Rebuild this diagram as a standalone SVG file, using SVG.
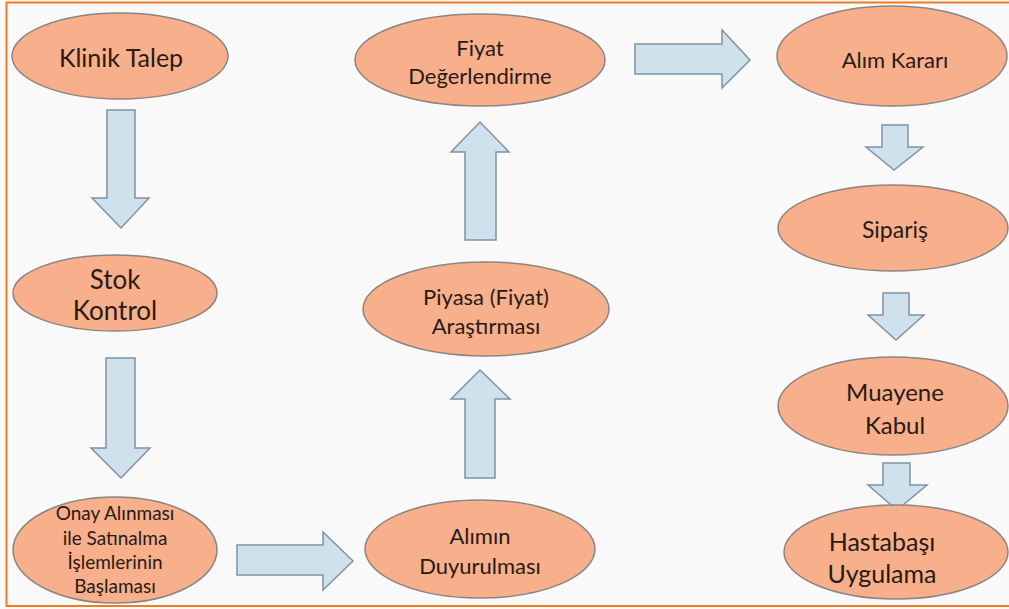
<svg xmlns="http://www.w3.org/2000/svg" width="1009" height="609" viewBox="0 0 1009 609">
<style>
.bg{fill:#f9f9f9}
.frame{fill:none;stroke:#f07c22;stroke-width:2}
.node ellipse{fill:#f7b08b;stroke:#8c8480;stroke-width:1.5}
.node text{font-family:"Lato","Liberation Sans",sans-serif;fill:#2a1a14;text-anchor:middle;dominant-baseline:central}
.arr{fill:#d0e1ee;stroke:#7f93a4;stroke-width:1.5;stroke-linejoin:miter}
</style>
<rect class="bg" x="0" y="0" width="1009" height="609"/>
<rect class="frame" x="6.5" y="2.5" width="1010" height="603.5"/>

<g id="connectors">
  <polygon class="arr" points="107,110 135,110 135,198 149,198 121,228 92,198 107,198"/>
  <polygon class="arr" points="106,358 135,358 135,448 150,448 121,478 91,448 106,448"/>
  <polygon class="arr" points="237,545 323,545 323,532 353,561 323,590 323,575 237,575"/>
  <polygon class="arr" points="465,478 495,478 495,399 510,399 480,370 451,399 465,399"/>
  <polygon class="arr" points="465,240 496,240 496,152 509,152 480,122 451,152 465,152"/>
  <polygon class="arr" points="635,44 722,44 722,30 750,60 722,88 722,74 635,74"/>
  <polygon class="arr" points="882,125 908,125 908,147 923,147 894,170 866,147 882,147"/>
  <polygon class="arr" points="883,293 909,293 909,315 924,315 896,340 868,315 883,315"/>
  <polygon class="arr" points="883,463 910,463 910,485 927,485 897,510 868,485 883,485"/>
</g>

<g id="klinik-talep" class="node">
  <ellipse cx="120" cy="56" rx="108" ry="43"/>
  <text x="121" y="57" font-size="25">Klinik Talep</text>
</g>
<g id="stok-kontrol" class="node">
  <ellipse cx="115" cy="293" rx="102" ry="38"/>
  <text x="115" y="279" font-size="26">Stok</text>
  <text x="115" y="310" font-size="26">Kontrol</text>
</g>
<g id="onay" class="node">
  <ellipse cx="115" cy="550" rx="102" ry="53"/>
  <text x="115" y="512" font-size="19">Onay Alınması</text>
  <text x="115" y="537" font-size="19">ile Satınalma</text>
  <text x="115" y="561" font-size="19">İşlemlerinin</text>
  <text x="115" y="585" font-size="19">Başlaması</text>
</g>
<g id="alimin-duyurulmasi" class="node">
  <ellipse cx="480" cy="549" rx="115" ry="49"/>
  <text x="480" y="535" font-size="22">Alımın</text>
  <text x="480" y="565" font-size="22">Duyurulması</text>
</g>
<g id="piyasa" class="node">
  <ellipse cx="486" cy="309" rx="123" ry="47"/>
  <text x="486" y="296" font-size="22">Piyasa (Fiyat)</text>
  <text x="486" y="325" font-size="22">Araştırması</text>
</g>
<g id="fiyat-degerlendirme" class="node">
  <ellipse cx="480" cy="60" rx="125" ry="46"/>
  <text x="480" y="47" font-size="22">Fiyat</text>
  <text x="480" y="75" font-size="22">Değerlendirme</text>
</g>
<g id="alim-karari" class="node">
  <ellipse cx="892" cy="56" rx="115" ry="50"/>
  <text x="895" y="59" font-size="22">Alım Kararı</text>
</g>
<g id="siparis" class="node">
  <ellipse cx="893" cy="228" rx="115" ry="43"/>
  <text x="895" y="229" font-size="23">Sipariş</text>
</g>
<g id="muayene-kabul" class="node">
  <ellipse cx="893" cy="406" rx="115" ry="49"/>
  <text x="895" y="391" font-size="24">Muayene</text>
  <text x="895" y="424" font-size="24">Kabul</text>
</g>
<g id="hastabasi" class="node">
  <ellipse cx="896" cy="552" rx="112" ry="47"/>
  <text x="882" y="541" font-size="25">Hastabaşı</text>
  <text x="882" y="573" font-size="25">Uygulama</text>
</g>
</svg>
